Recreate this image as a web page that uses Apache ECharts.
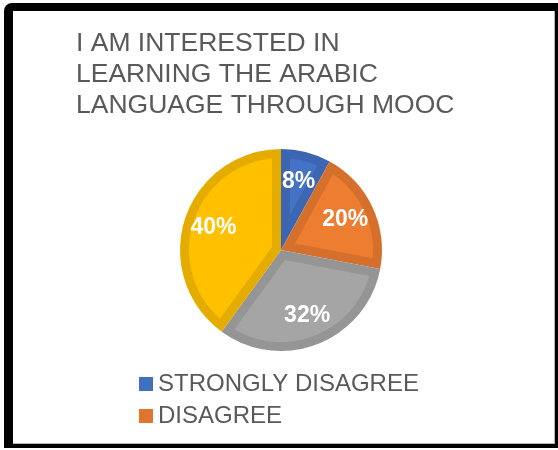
<!DOCTYPE html>
<html>
<head>
<meta charset="utf-8">
<script src="https://cdn.jsdelivr.net/npm/echarts@6/dist/echarts.min.js"></script>
<style>
html,body{margin:0;padding:0;background:#fff;}
#chart{width:558px;height:450px;}
</style>
</head>
<body>
<div id="chart"></div>
<script>
// ---- data ----
const titleLines = ['I AM INTERESTED IN', 'LEARNING THE ARABIC', 'LANGUAGE THROUGH MOOC'];
const categories = ['STRONGLY DISAGREE', 'DISAGREE', 'NEUTRAL', 'AGREE'];
const values = [8, 20, 32, 40];
const legendShown = ['STRONGLY DISAGREE', 'DISAGREE'];

// ---- styles ----
const fillColors = ['#4472C4', '#ED7D31', '#A5A5A5', '#FFC000'];
const edgeColors = ['#3C66B2', '#D56F2C', '#959595', '#E5AC00'];
const legendColors = ['#4070C0', '#E2742F'];
const FONT = '"Liberation Sans", Arial, sans-serif';
const CX = 281, CY = 250, R = 101, INSET = 9;

const chart = echarts.init(document.getElementById('chart'), null, {renderer: 'canvas'});

function insetSector(params, api) {
  const i = params.dataIndex;
  const total = values.reduce((s, v) => s + v, 0);
  let before = 0;
  for (let j = 0; j < i; j++) before += values[j];
  const a0 = -Math.PI / 2 + before / total * Math.PI * 2;
  const a1 = a0 + values[i] / total * Math.PI * 2;
  const th = a1 - a0;
  const mid = (a0 + a1) / 2;
  const c = INSET / Math.sin(th / 2);
  const rho = R - INSET;
  const del = Math.asin(INSET / rho);
  const pts = [[CX + c * Math.cos(mid), CY + c * Math.sin(mid)]];
  const N = 60;
  for (let k = 0; k <= N; k++) {
    const a = a0 + del + (th - 2 * del) * k / N;
    pts.push([CX + rho * Math.cos(a), CY + rho * Math.sin(a)]);
  }
  return {type: 'polygon', shape: {points: pts}, style: {fill: fillColors[i]}};
}

const option = {
  backgroundColor: '#ffffff',
  animation: false,
  title: {
    text: titleLines.join('\n'),
    left: 76,
    top: 28,
    padding: 0,
    textStyle: {
      fontFamily: FONT,
      fontSize: 26.5,
      fontWeight: 'normal',
      color: '#595959',
      lineHeight: 31
    }
  },
  legend: {
    orient: 'vertical',
    left: 139,
    top: 372,
    padding: 0,
    itemWidth: 14,
    itemHeight: 14,
    itemGap: 8,
    icon: 'rect',
    data: legendShown.map((n, i) => ({name: n, itemStyle: {color: legendColors[i]}})),
    textStyle: {
      fontFamily: FONT,
      fontSize: 24,
      lineHeight: 24,
      color: '#595959'
    }
  },
  graphic: {
    elements: [
      {type: 'rect', shape: {x: 4, y: 3, width: 554, height: 445, r: [8, 0, 0, 0]}, style: {fill: '#000'}, z: 0, silent: true},
      {type: 'rect', shape: {x: 13, y: 11, width: 541, height: 432}, style: {fill: '#fff'}, z: 1, silent: true},
      {type: 'rect', shape: {x: 554, y: 11, width: 1, height: 433}, style: {fill: '#b5b5b5'}, z: 1, silent: true},
      {type: 'rect', shape: {x: 13, y: 443, width: 542, height: 1}, style: {fill: '#b5b5b5'}, z: 1, silent: true}
    ]
  },
  series: [
    {
      type: 'pie',
      name: 'edges',
      center: [CX, CY],
      radius: [0, R],
      startAngle: 90,
      clockwise: true,
      z: 2,
      silent: true,
      data: categories.map((n, i) => ({name: n, value: values[i], itemStyle: {color: edgeColors[i]}})),
      label: {show: false},
      labelLine: {show: false},
      itemStyle: {borderWidth: 0}
    },
    {
      type: 'custom',
      name: 'fills',
      coordinateSystem: 'none',
      z: 3,
      silent: true,
      data: values,
      renderItem: insetSector
    },
    {
      type: 'pie',
      name: 'labels',
      center: [CX, CY],
      radius: [0, 136],
      startAngle: 90,
      clockwise: true,
      z: 4,
      silent: true,
      percentPrecision: 0,
      avoidLabelOverlap: false,
      data: categories.map((n, i) => ({name: n, value: values[i]})),
      itemStyle: {color: 'rgba(0,0,0,0)', borderWidth: 0},
      labelLine: {show: false},
      label: {
        show: true,
        position: 'inside',
        formatter: '{d}%',
        fontFamily: FONT,
        fontSize: 23,
        fontWeight: 'bold',
        color: '#ffffff'
      }
    }
  ]
};
chart.setOption(option);
</script>
</body>
</html>
